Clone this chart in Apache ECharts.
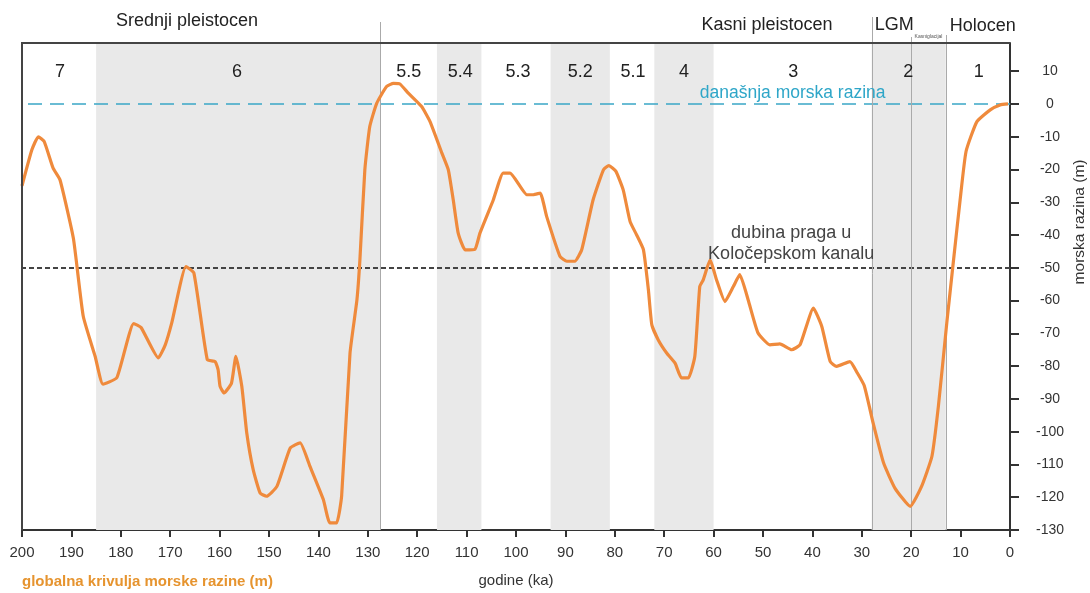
<!DOCTYPE html>
<html>
<head>
<meta charset="utf-8">
<title>globalna krivulja morske razine</title>
<script src="https://cdn.jsdelivr.net/npm/echarts@6/dist/echarts.min.js"></script>
<style>
  html, body { margin: 0; padding: 0; background: #fff; }
  #chart { width: 1090px; height: 593px; }
</style>
</head>
<body>
<div id="chart"></div>
<script>
// krivulja morske razine: [starost (ka), razina (m)]
var seaLevel = [
  [200, -25], [198, -14], [196.7, -10], [195.5, -11.5], [193.7, -19.6], [192.3, -23.2],
  [189.6, -41], [187.6, -64.8], [185.2, -77], [183.6, -85.5], [180.8, -83.5], [177.4, -67],
  [175.9, -68.2], [172.4, -77.5], [171, -73.5], [169.7, -66.9], [166.8, -49.6], [165.2, -51.6],
  [162.5, -78], [160.9, -78.6], [160.3, -81.1], [159.9, -86.2], [159.1, -88.2], [157.6, -85.2],
  [156.7, -77], [155.5, -86.2], [154.5, -100.4], [153.2, -111.6], [151.8, -118.7], [150.5, -119.7],
  [148.4, -116.7], [145.7, -105], [143.7, -103.4], [141.7, -110.6], [139, -120.7], [137.7, -127.8],
  [136.3, -127.8], [135.3, -119.7], [133.6, -76], [132.2, -59.8], [131.6, -47.6], [130.6, -20.1],
  [129.6, -6.9], [128.2, 0.2], [126.2, 5.3], [124.8, 6.3], [123.5, 6.1], [121.8, 3.3],
  [119.1, -0.8], [117.4, -5.4], [115, -15], [113.7, -20.1], [112.7, -29.3], [111.7, -39.4],
  [110.3, -44.5], [108.3, -44.3], [107.3, -39.4], [104.6, -29.3], [102.6, -21.1], [101.2, -21.1],
  [97.8, -27.7], [96.5, -27.7], [95.1, -27.2], [93.8, -34.3], [91.1, -46.5], [89.7, -48],
  [88.1, -48], [86.7, -44.5], [84.4, -29.3], [82.3, -20.1], [81.2, -18.8], [79.8, -20.5],
  [78.3, -26.2], [76.9, -35.9], [75.6, -39.9], [74.2, -44.5], [73.2, -56.7], [72.5, -67.4],
  [71.2, -72], [69.5, -76], [67.8, -79.1], [66.5, -83.6], [65.1, -83.6], [63.8, -77],
  [62.8, -55.7], [62.1, -53.7], [60.7, -47.6], [59.4, -53.7], [57.7, -60.3], [56, -55.7],
  [54.7, -52.1], [53, -59.8], [51, -69.9], [48.6, -73.5], [46.6, -73.2], [44.2, -75],
  [42.5, -73.5], [39.8, -62.3], [38.1, -67.9], [36.4, -78.6], [35.1, -80.1], [32.4, -78.6],
  [30.9, -82.1], [29.5, -86], [27.7, -97.4], [25.6, -109.5], [23.3, -117.2], [20.2, -122.8],
  [17.9, -116.7], [15.8, -107.5], [14.5, -92.3], [12.8, -66.9], [11.5, -48.6], [10.1, -29.3],
  [8.9, -14.5], [6.7, -5.4], [4, -1.8], [2, -0.3], [0.4, 0]
];

var yTicks = [-130, -120, -110, -100, -90, -80, -70, -60, -50, -40, -30, -20, -10, 0, 10];

// MIS stadiji (sivo), granice u ka
var misBands = [[185, 127.5], [116, 107], [93, 81], [72, 60], [28, 13]];
var misNames = ['7', '6', '5.5', '5.4', '5.3', '5.2', '5.1', '4', '3', '2', '1'];
var misAge = [192.3, 156.5, 121.7, 111.3, 99.6, 87, 76.3, 66, 43.9, 20.6, 6.3];

var todayLevel = 0;
var sillDepth = -50;
var boundaries = [127.5, 28, 20, 13];

var font = '"Liberation Sans", Arial, Helvetica, sans-serif';
var yMax = 18.6;

var chart = echarts.init(document.getElementById('chart'));

var option = {
  animation: false,
  textStyle: { fontFamily: font },
  grid: { left: 22, right: 80, top: 43, bottom: 63 },
  xAxis: {
    type: 'value',
    inverse: true,
    min: 0,
    max: 200,
    interval: 10,
    name: 'godine (ka)',
    nameLocation: 'middle',
    nameGap: 43,
    nameTextStyle: { fontSize: 15, color: '#333', fontFamily: font },
    axisLine: { onZero: false, lineStyle: { color: '#333', width: 2 } },
    axisTick: { length: 7, lineStyle: { color: '#333', width: 2 } },
    axisLabel: { fontSize: 15, color: '#333', margin: 15, fontFamily: font },
    splitLine: { show: false }
  },
  yAxis: {
    type: 'value',
    position: 'right',
    min: -130,
    max: yMax,
    axisLine: { show: true, onZero: false, lineStyle: { color: '#333', width: 2 } },
    axisTick: { show: true, length: 9, customValues: yTicks, lineStyle: { color: '#333', width: 2 } },
    axisLabel: { fontSize: 14, color: '#333', margin: 40, align: 'center', customValues: yTicks, fontFamily: font },
    splitLine: { show: false }
  },
  series: [
    {
      name: 'globalna krivulja morske razine',
      type: 'line',
      data: seaLevel,
      symbol: 'none',
      smooth: 0.15,
      z: 4,
      lineStyle: { color: '#ef8a3c', width: 3.2 },
      markArea: {
        silent: true,
        z: 1,
        itemStyle: { color: '#e9e9e9' },
        data: misBands.map(function (b) {
          return [{ xAxis: b[0] }, { xAxis: b[1] }];
        })
      },
      markLine: {
        silent: true,
        z: 2,
        symbol: 'none',
        label: { show: false },
        data: [
          { yAxis: todayLevel, lineStyle: { color: '#3aa6c6', width: 1.5, type: [14, 8] } },
          { yAxis: sillDepth, lineStyle: { color: '#444', width: 2, type: [5, 3] } }
        ]
      }
    }
  ]
};
chart.setOption(option);

function px(ka, m) {
  return chart.convertToPixel({ gridIndex: 0 }, [ka, m]);
}

// natpisi i okvir
function buildGraphic() {
  var lt = px(200, yMax), rb = px(0, -130);
  var left = lt[0], top = lt[1], right = rb[0], bottom = rb[1];
  var els = [];

  // okvir (lijevo i gore)
  els.push({
    type: 'polyline', z: 10,
    shape: { points: [[left, bottom], [left, top], [right, top]] },
    style: { stroke: '#444', lineWidth: 2, fill: null }
  });

  // granice razdoblja
  var lineTops = [21, 26, 6, 8];
  boundaries.forEach(function (b, i) {
    var x = Math.round(px(b, 0)[0]) + 0.5;
    els.push({
      type: 'line', z: 3,
      shape: { x1: x, y1: top - lineTops[i], x2: x, y2: bottom },
      style: { stroke: '#aaa', lineWidth: 1 }
    });
  });

  // oznake MIS stadija
  misNames.forEach(function (n, i) {
    var p = px(misAge[i], 10);
    els.push({
      type: 'text', z: 6, x: p[0], y: p[1] + 1,
      style: { text: n, fill: '#222', align: 'center', verticalAlign: 'middle', font: '18px ' + font }
    });
  });

  var periods = [
    { t: 'Srednji pleistocen', ka: 166.6, dy: -22, align: 'center' },
    { t: 'Kasni pleistocen', ka: 49.2, dy: -18, align: 'center' },
    { t: 'LGM', ka: 27.4, dy: -18, align: 'left' },
    { t: 'Holocen', ka: 12.2, dy: -17, align: 'left' }
  ];
  periods.forEach(function (p) {
    els.push({
      type: 'text', z: 6, x: px(p.ka, 0)[0], y: top + p.dy,
      style: { text: p.t, fill: '#222', align: p.align, verticalAlign: 'middle', font: '18px ' + font }
    });
  });
  els.push({
    type: 'text', z: 6, x: px(16.5, 0)[0], y: top - 6,
    style: { text: 'Kasniglacijal', fill: '#555', align: 'center', verticalAlign: 'middle', font: '5px ' + font }
  });

  // današnja razina i prag
  var c = px(44, todayLevel);
  els.push({
    type: 'text', z: 6, x: c[0], y: c[1] - 11,
    style: { text: 'današnja morska razina', fill: '#2ea6c8', align: 'center', verticalAlign: 'middle', font: '17.5px ' + font }
  });
  var s = px(44.3, sillDepth);
  els.push({
    type: 'text', z: 6, x: s[0], y: s[1] - 24,
    style: { text: 'dubina praga u\nKoločepskom kanalu', fill: '#444', align: 'center', verticalAlign: 'middle', lineHeight: 21, font: '18px ' + font }
  });

  // naziv y osi
  els.push({
    type: 'text', z: 6, x: 1080, y: px(0, -36)[1], rotation: Math.PI / 2,
    style: { text: 'morska razina (m)', fill: '#333', align: 'center', verticalAlign: 'middle', font: '15.5px ' + font }
  });

  // naslov krivulje
  els.push({
    type: 'text', z: 6, x: left, y: bottom + 52,
    style: { text: 'globalna krivulja morske razine (m)', fill: '#e6942f', align: 'left', verticalAlign: 'middle', font: 'bold 15px ' + font }
  });

  chart.setOption({ graphic: { elements: els } });
}
buildGraphic();

window.addEventListener('resize', function () {
  chart.resize();
  buildGraphic();
});
</script>
</body>
</html>
